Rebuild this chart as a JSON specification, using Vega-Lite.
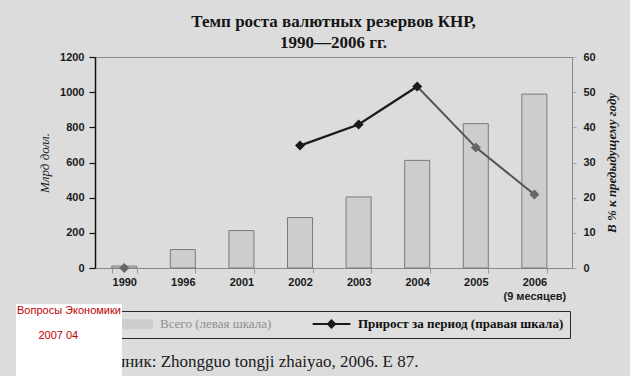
{
  "$schema": "https://vega.github.io/schema/vega-lite/v6.json",
  "width": 477,
  "height": 211,
  "autosize": {"type": "none"},
  "padding": {"left": 95, "top": 57, "right": 58, "bottom": 108},
  "background": "#dcdcdc",
  "config": {"view": {"stroke": "#8a8a8a", "strokeWidth": 1}},
  "title": {
    "text": ["Темп роста валютных резервов КНР,", "1990—2006 гг."],
    "font": "Liberation Serif",
    "fontSize": 17,
    "fontWeight": "bold",
    "color": "#151515",
    "lineHeight": 21,
    "anchor": "middle",
    "frame": "group",
    "offset": -1
  },
  "data": {
    "values": [
      {"year": "1990", "total": 11, "growth": 0},
      {"year": "1996", "total": 105, "growth": null},
      {"year": "2001", "total": 213, "growth": null},
      {"year": "2002", "total": 287, "growth": 34.8},
      {"year": "2003", "total": 404, "growth": 40.8},
      {"year": "2004", "total": 612, "growth": 51.6},
      {"year": "2005", "total": 821, "growth": 34.3},
      {"year": "2006", "total": 989, "growth": 20.9}
    ]
  },
  "encoding": {
    "x": {
      "field": "year",
      "type": "nominal",
      "scale": {"paddingInner": 0.573, "paddingOuter": 0.357, "align": 0.4},
      "axis": {
        "title": "Источник: Zhongguo tongji zhaiyao, 2006. E 87.",
        "titleFont": "Liberation Serif",
        "titleFontSize": 17,
        "titleFontWeight": "normal",
        "titleColor": "#1a1a1a",
        "titleAlign": "right",
        "titleAnchor": "start",
        "titleX": 323,
        "titleY": 93,
        "titleBaseline": "middle",
        "labelAngle": 0,
        "labelFont": "Liberation Sans",
        "labelFontSize": 11,
        "labelFontWeight": "bold",
        "labelColor": "#1a1a1a",
        "labelPadding": 3,
        "labelLineHeight": 14,
        "labelExpr": "datum.value == '2006' ? ['2006', '(9 месяцев)'] : datum.value",
        "domainColor": "#8a8a8a",
        "tickColor": "#9a9a9a",
        "tickSize": 5,
        "tickBand": "extent"
      }
    }
  },
  "layer": [
    {
      "mark": {"type": "bar", "stroke": "#7a7a7a", "strokeWidth": 1},
      "encoding": {
        "y": {
          "field": "total",
          "type": "quantitative",
          "scale": {"domain": [0, 1200]},
          "axis": {
            "orient": "left",
            "values": [0, 200, 400, 600, 800, 1000, 1200],
            "format": "d",
            "title": "Млрд долл.",
            "titleFont": "Liberation Serif",
            "titleFontStyle": "italic",
            "titleFontWeight": "normal",
            "titleFontSize": 13,
            "titleColor": "#1a1a1a",
            "titlePadding": 8,
            "labelFont": "Liberation Sans",
            "labelFontSize": 11,
            "labelFontWeight": "bold",
            "labelColor": "#1a1a1a",
            "labelPadding": 5,
            "tickSize": 6,
            "tickColor": "#111111",
            "tickWidth": 1.2,
            "domainColor": "#111111",
            "domainWidth": 1.5,
            "grid": false
          }
        },
        "color": {
          "datum": "Всего (левая шкала)",
          "scale": {
            "domain": ["Всего (левая шкала)", "Прирост за период (правая шкала)"],
            "range": ["#cdcdcd", "#1a1a1a"]
          },
          "legend": {
            "orient": "none",
            "legendX": 16,
            "legendY": 254,
            "direction": "horizontal",
            "columns": 2,
            "title": null,
            "fillColor": "#dedede",
            "strokeColor": "#2a2a2a",
            "padding": 6,
            "symbolSize": 324,
            "symbolOffset": 10,
            "labelOffset": 20,
            "columnPadding": 36,
            "symbolType": {"expr": "datum.value === 'Всего (левая шкала)' ? 'M-2.1,-0.5H2.1V0.5H-2.1Z' : 'M-2.1,0H2.1M0,-0.4L0.4,0L0,0.4L-0.4,0Z'"},
            "symbolStrokeWidth": {"expr": "datum.value === 'Всего (левая шкала)' ? 1 : 2"},
            "symbolStrokeColor": {"expr": "datum.value === 'Всего (левая шкала)' ? '#8a8a8a' : '#1a1a1a'"},
            "symbolFillColor": {"expr": "datum.value === 'Всего (левая шкала)' ? '#cdcdcd' : '#1a1a1a'"},
            "labelColor": {"expr": "datum.value === 'Всего (левая шкала)' ? '#8e8e8e' : '#111111'"},
            "labelFontWeight": {"expr": "datum.value === 'Всего (левая шкала)' ? 'normal' : 'bold'"},
            "labelFont": "Liberation Serif",
            "labelFontSize": 13,
            "labelLimit": 400
          }
        }
      }
    },
    {
      "encoding": {
        "y": {
          "field": "growth",
          "type": "quantitative",
          "scale": {"domain": [0, 60]},
          "axis": {
            "orient": "right",
            "values": [0, 10, 20, 30, 40, 50, 60],
            "title": "В % к предыдущему году",
            "titleAngle": 270,
            "titleFont": "Liberation Serif",
            "titleFontStyle": "italic",
            "titleFontWeight": "bold",
            "titleFontSize": 13,
            "titleColor": "#1a1a1a",
            "titlePadding": 23,
            "labelFont": "Liberation Sans",
            "labelFontSize": 11,
            "labelFontWeight": "bold",
            "labelColor": "#1a1a1a",
            "labelPadding": 7,
            "tickSize": 4,
            "tickColor": "#aaaaaa",
            "domainColor": "#8a8a8a",
            "grid": false
          }
        }
      },
      "layer": [
        {
          "transform": [{"filter": {"field": "year", "oneOf": ["2004", "2005", "2006"]}}],
          "mark": {"type": "line", "color": "#555555", "strokeWidth": 2}
        },
        {
          "transform": [{"filter": {"field": "year", "oneOf": ["2002", "2003", "2004"]}}],
          "mark": {"type": "line", "strokeWidth": 2.2},
          "encoding": {
            "color": {"datum": "Прирост за период (правая шкала)"}
          }
        },
        {
          "transform": [{"filter": {"field": "year", "oneOf": ["1990", "2005", "2006"]}}],
          "mark": {"type": "point", "filled": true, "size": 100, "color": "#666666", "opacity": 1},
          "encoding": {
            "shape": {
              "datum": "2007 04",
              "scale": {"domain": ["2007 04"], "range": ["diamond"]},
              "legend": {
                "orient": "none",
                "legendX": -79,
                "legendY": 247,
                "title": ["Вопросы Экономики", "\u200b", "\u200b\u00a0\u00a0\u00a0\u00a0\u00a0\u00a0\u00a02007 04"],
                "titleFont": "Liberation Sans",
                "titleFontSize": 11,
                "titleFontWeight": "normal",
                "titleColor": "#c00000",
                "titleLineHeight": 12.5,
                "titleBaseline": "top",
                "titleAlign": "left",
                "titlePadding": 0,
                "padding": 1,
                "fillColor": "#ffffff",
                "symbolSize": 1764,
                "symbolOpacity": 0,
                "symbolStrokeWidth": 0,
                "labelExpr": "'\u00a0'",
                "labelColor": "#ffffff",
                "labelFontSize": 11
              }
            }
          }
        },
        {
          "transform": [{"filter": {"field": "year", "oneOf": ["2002", "2003", "2004"]}}],
          "mark": {"type": "point", "filled": true, "size": 100, "shape": "diamond", "color": "#1a1a1a", "opacity": 1}
        }
      ]
    }
  ],
  "resolve": {"scale": {"y": "independent"}}
}
